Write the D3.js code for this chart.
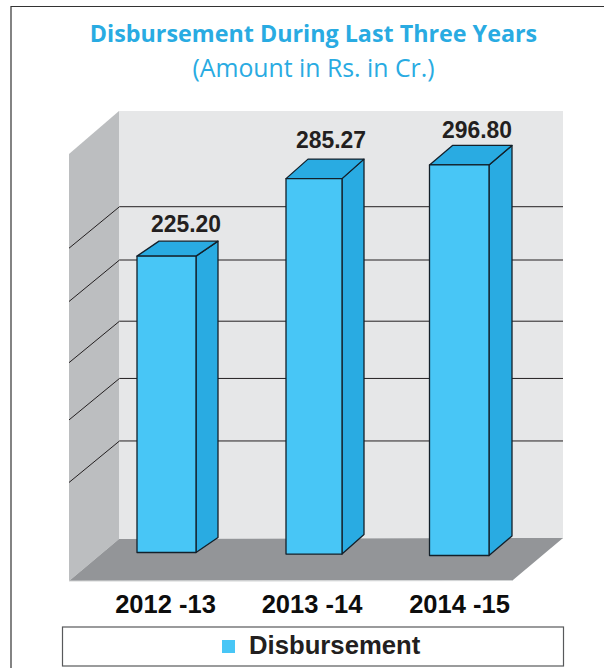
<!DOCTYPE html>
<html><head><meta charset="utf-8">
<script src="https://cdn.jsdelivr.net/npm/d3@7/dist/d3.min.js"></script>
<style>html,body{margin:0;padding:0;background:#fff}svg{display:block}</style>
</head><body><svg id="c" width="604" height="668"></svg>
<script>
const categories = ["2012 -13", "2013 -14", "2014 -15"];
const disbursement = [225.20, 285.27, 296.80];
const valueLabels = ["225.20", "285.27", "296.80"];
const gridValues = [74.5, 122, 165.5, 212, 252.5];
const titleText = "Disbursement During Last Three Years";
const subtitleText = "(Amount in Rs. in Cr.)";
const legendText = "Disbursement";

const svg = d3.select("#c");
const blue = "#48c6f6", blueDark = "#29abe2";

// scales
const xLeft = d3.scaleOrdinal(categories, [137, 286, 429.5]);
const barW = d3.scaleOrdinal(categories, [59, 56, 59.5]);
const depthX = d3.scaleOrdinal(categories, [22, 22, 23]);
const depthY = d3.scaleOrdinal(categories, [15, 19.5, 19.5]);
const baseAt = d3.scaleLinear([137, 429.5], [552.5, 555.5]);
const pxPerUnit = d3.scaleLinear([0, 100], [0, 131.6]);
const gridY = d3.scaleLinear([0, 100], [539, 407.4]);
const valueX = d3.scaleOrdinal(categories, [186, 331, 477]);
const valueGap = d3.scaleOrdinal(categories, [9, 11, 7]);

// frame
svg.append("path").attr("d", "M11,668V6.5H604").attr("fill", "none").attr("stroke", "#333").attr("stroke-width", 1.2);

// titles
svg.append("text").attr("x", 313.5).attr("y", 41.5).attr("text-anchor", "middle")
  .attr("font-family", "'Open Sans'").attr("font-weight", 700).attr("font-size", 23.3).attr("fill", blueDark).text(titleText);
svg.append("text").attr("x", 313.5).attr("y", 76.5).attr("text-anchor", "middle")
  .attr("font-family", "'Open Sans'").attr("font-size", 24.8).attr("fill", blueDark).text(subtitleText);

// walls
const wall = svg.append("g");
wall.append("polygon").attr("points", "119,111 563,111 563,539 119,539").attr("fill", "#e6e7e8");
wall.append("polygon").attr("points", "69,154 119,111 119,539 69,581").attr("fill", "#bcbec0");
wall.append("polygon").attr("points", "69,581 119,539 563,538 513,580").attr("fill", "#939598");
wall.append("line").attr("x1", 69).attr("x2", 513).attr("y1", 581).attr("y2", 580.5).attr("stroke", "#d1d3d4").attr("stroke-width", 1.2);

// gridlines
const grid = svg.append("g").attr("fill", "none").attr("stroke", "#231f20").attr("stroke-width", 1);
gridValues.forEach(v => {
  const y = gridY(v);
  grid.append("path").attr("d", `M69,${y + 41.5}L119.5,${y}H563`);
});

// bars
const bars = svg.append("g").selectAll("g").data(categories).join("g");
bars.each(function (c, i) {
  const g = d3.select(this);
  const x0 = xLeft(c), w = barW(c), dx = depthX(c), dy = depthY(c);
  const base = baseAt(x0), top = base - pxPerUnit(disbursement[i]);
  const x1 = x0 + w;
  const add = (pts, fill) => g.append("polygon")
    .attr("points", pts.map(q => q.join(",")).join(" ")).attr("fill", fill)
    .attr("stroke", "#13202a").attr("stroke-width", 1.3).attr("stroke-linejoin", "round");
  add([[x1, top], [x1 + dx, top - dy], [x1 + dx, base - dy], [x1, base]], blueDark);
  add([[x0, top], [x0 + dx, top - dy], [x1 + dx, top - dy], [x1, top]], blueDark);
  add([[x0, top], [x1, top], [x1, base], [x0, base]], blue);
  g.append("text").attr("x", valueX(c)).attr("y", top - dy - valueGap(c))
    .attr("text-anchor", "middle").attr("font-family", "'Liberation Sans'").attr("font-weight", 700)
    .attr("font-size", 24).attr("textLength", 70).attr("lengthAdjust", "spacingAndGlyphs")
    .attr("fill", "#231f20").text(valueLabels[i]);
});

// category labels
const labelX = d3.scaleOrdinal(categories, [165.5, 312, 459.5]);
svg.append("g").selectAll("text").data(categories).join("text")
  .attr("x", d => labelX(d)).attr("y", 612.5).attr("text-anchor", "middle")
  .attr("font-family", "'Liberation Sans'").attr("font-weight", 700).attr("font-size", 25.5).attr("fill", "#0d0d0d").text(d => d);

// legend
svg.append("rect").attr("x", 62.5).attr("y", 627).attr("width", 501).attr("height", 39).attr("fill", "#fff").attr("stroke", "#58595b").attr("stroke-width", 1.2);
svg.append("rect").attr("x", 222).attr("y", 640).attr("width", 13).attr("height", 13).attr("fill", blue);
svg.append("text").attr("x", 249).attr("y", 654).attr("font-family", "'Liberation Sans'").attr("font-weight", 700).attr("font-size", 25.7).attr("fill", "#231f20").text(legendText);
</script></body></html>
